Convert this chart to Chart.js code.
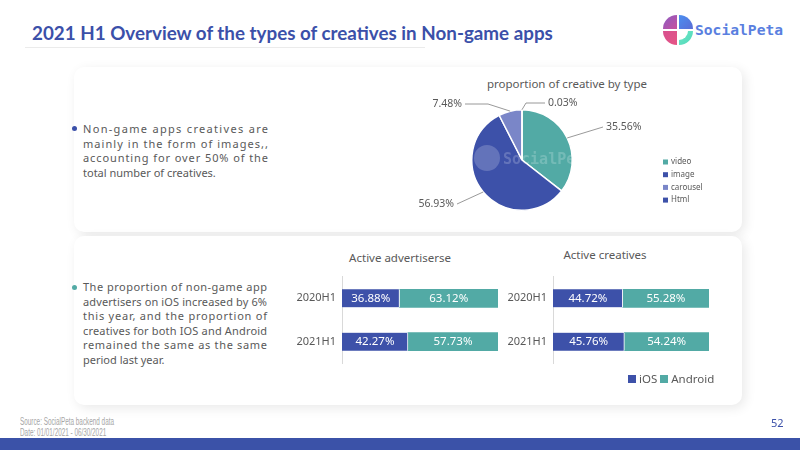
<!DOCTYPE html>
<html><head><meta charset="utf-8">
<script src="https://cdn.jsdelivr.net/npm/chart.js@4.4.0/dist/chart.umd.min.js"></script>
<style>
html,body{margin:0;padding:0;background:#fff;}
body{width:800px;height:450px;position:relative;overflow:hidden;font-family:"Noto Sans",sans-serif;color:#595959;}
.abs{position:absolute;}
#title{left:32px;top:20px;font-family:"Lato","Noto Sans",sans-serif;font-weight:700;font-size:19px;color:#3b50a9;white-space:nowrap;line-height:26px;}
#rule{left:25px;top:47px;width:400px;height:1px;background:#ebebeb;}
.card{background:#fff;border-radius:10px;box-shadow:3px 3px 12px rgba(0,0,0,0.09);}
.txt{font-size:11px;line-height:14.5px;color:#595959;white-space:nowrap;}
.txt div{white-space:nowrap;}
.dot{width:5px;height:5px;border-radius:50%;}
.ctitle{font-size:11.5px;color:#595959;white-space:nowrap;transform:translateX(-50%);}
.foot{left:20px;font-family:"Liberation Sans",sans-serif;font-size:10px;color:#a6a6a6;white-space:nowrap;line-height:11px;transform-origin:0 0;}
#page{left:771px;top:415px;font-size:11px;color:#3b50a9;}
#bar{left:0;top:438px;width:800px;height:12px;background:#3b52a8;}
#logo{left:663px;top:15px;width:30px;height:30px;}
#logo div{position:absolute;width:14px;height:14px;}
#logotext{left:695px;top:17px;font-family:"DejaVu Sans Mono",monospace;font-weight:700;font-size:16px;color:#5a7fe0;white-space:nowrap;line-height:26px;}
#leg{left:628px;top:371px;font-size:11.5px;color:#595959;white-space:nowrap;}
#leg span.sq{display:inline-block;width:8px;height:8px;margin-right:3px;vertical-align:0px;}
.wm{color:rgba(0,0,0,0.025);font-family:"DejaVu Sans Mono",monospace;font-weight:700;font-size:15px;white-space:nowrap;}
</style></head>
<body>
<div id="title" class="abs">2021 H1 Overview of the types of creatives in Non-game apps</div>
<div id="rule" class="abs"></div>
<div id="logo" class="abs">
  <div style="left:0;top:0;border-top-left-radius:14px;background:linear-gradient(135deg,#8a5cc4,#c8509e);"></div>
  <div style="left:16px;top:0;border-top-right-radius:14px;background:linear-gradient(135deg,#4b8ff0,#5a6cd6);"></div>
  <div style="left:0;top:16px;border-bottom-left-radius:14px;background:linear-gradient(135deg,#d8508f,#e65585);"></div>
  <div style="left:16px;top:16px;border-bottom-right-radius:14px;background:linear-gradient(135deg,#6fe9c8,#4fd6b8);"></div>
  <div style="left:16px;top:16px;width:9px;height:9px;border-bottom-right-radius:9px;background:#fff;"></div>
</div>
<div id="logotext" class="abs">SocialPeta</div>

<div class="abs card" style="left:74px;top:67px;width:668px;height:165px;"></div>
<div class="abs card" style="left:74px;top:236px;width:668px;height:169px;"></div>

<div class="abs dot" style="left:72px;top:126px;background:#3b50a9;"></div>
<div class="abs txt" id="b1" style="left:83px;top:122px;">
  <div class="j">Non-game apps creatives are</div>
  <div class="j">mainly in the form of images,,</div>
  <div class="j">accounting for over 50% of the</div>
  <div>total number of creatives.</div>
</div>
<div class="abs dot" style="left:72px;top:285px;background:#52aaa5;"></div>
<div class="abs txt" id="b2" style="left:83px;top:280px;">
  <div class="j">The proportion of non-game app</div>
  <div class="j">advertisers on iOS increased by 6%</div>
  <div class="j">this year, and the proportion of</div>
  <div class="j">creatives for both IOS and Android</div>
  <div class="j">remained the same as the same</div>
  <div>period last year.</div>
</div>

<div class="abs ctitle" style="left:567px;top:76px;">proportion of creative by type</div>
<canvas id="pie" class="abs" width="330" height="154" style="left:410px;top:72px;"></canvas>

<div class="abs ctitle" style="left:400px;top:250px;">Active advertiserse</div>
<div class="abs ctitle" style="left:605px;top:247px;">Active creatives</div>
<div class="abs wm" style="left:372px;top:311px;">&#9679; SocialPeta</div>
<div class="abs wm" style="left:584px;top:312px;">&#9679; SocialPeta</div>
<canvas id="adv" class="abs" width="220" height="112" style="left:290px;top:264px;"></canvas>
<canvas id="cre" class="abs" width="220" height="112" style="left:500px;top:264px;"></canvas>
<div id="leg" class="abs"></div>

<div id="foot1" class="abs foot" style="top:416px;">Source: SocialPeta backend data</div>
<div id="foot2" class="abs foot" style="top:427px;">Date: 01/01/2021 - 06/30/2021</div>
<div id="page" class="abs">52</div>
<div id="bar" class="abs"></div>

<script>
// ---- data ----
const creativeTypes = ['video', 'image', 'carousel', 'Html'];
const creativeShares = [35.56, 56.93, 7.48, 0.03];
const periods = ['2020H1', '2021H1'];
const platforms = ['iOS', 'Android'];
const advertiserIOS = [36.88, 42.27];
const advertiserAndroid = [63.12, 57.73];
const creativeIOS = [44.72, 45.76];
const creativeAndroid = [55.28, 54.24];

// ---- styles ----
const BLUE = '#3d51a9', TEAL = '#52aaa5', LAV = '#7a86c8', GREY = '#595959';
const FONT = '"Noto Sans", sans-serif';

// text fitting helpers
function fitWidth(el, target){
  let fs = parseFloat(getComputedStyle(el).fontSize);
  for(let i=0;i<4;i++){ const w = el.getBoundingClientRect().width; fs = fs*target/w; el.style.fontSize = fs+'px'; }
}
fitWidth(document.getElementById('title'), 521);
fitWidth(document.getElementById('logotext'), 88);
const f1 = document.getElementById('foot1'), f2 = document.getElementById('foot2');
const sx = 94 / f1.getBoundingClientRect().width;
f1.style.transform = f2.style.transform = 'scaleX(' + sx + ')';
function justify(id, target){
  document.querySelectorAll('#'+id+' .j').forEach(d=>{
    d.style.display='inline-block'; d.style.letterSpacing='0px';
    const w = d.getBoundingClientRect().width;
    const n = d.textContent.length;
    d.style.letterSpacing = ((target - w)/(n-1))+'px';
    d.style.display='block';
  });
}
justify('b1', 185); justify('b2', 184);

// legend for bars
const leg = document.getElementById('leg');
[[platforms[0],BLUE],[platforms[1],TEAL]].forEach(([n,c],i)=>{
  const s=document.createElement('span'); s.className='sq'; s.style.background=c; if(i>0) s.style.marginLeft='3px';
  leg.appendChild(s); leg.appendChild(document.createTextNode(n));
});

// ---- pie ----
function p0x(c){ return (c.chartArea.left + c.chartArea.right)/2; }
function p0y(c){ return (c.chartArea.top + c.chartArea.bottom)/2; }
const pieLabels = {
  id:'pieLabels',
  afterDatasetsDraw(chart, args, opts){
    const ctx = chart.ctx, meta = chart.getDatasetMeta(0), ds = chart.data.datasets[0];
    ctx.save();
    ctx.font = '10.5px ' + FONT; ctx.fillStyle = GREY; ctx.strokeStyle = '#7f7f7f'; ctx.lineWidth = 0.8;
    ctx.textBaseline = 'middle';
    meta.data.forEach((arc, i)=>{
      const p = arc.getProps(['x','y','startAngle','endAngle','outerRadius'], true);
      const mid = (p.startAngle + p.endAngle)/2;
      const sx = p.x + Math.cos(mid)*p.outerRadius, sy = p.y + Math.sin(mid)*p.outerRadius;
      const o = opts.items[i];
      const ex = p.x + o.dx, ey = p.y + o.dy;
      const dir = o.align === 'left' ? 1 : -1;
      const kx = ex - dir*o.h;
      ctx.beginPath(); ctx.moveTo(sx, sy); ctx.lineTo(kx, ey); ctx.lineTo(ex, ey); ctx.stroke();
      ctx.textAlign = o.align;
      ctx.fillText(ds.data[i].toFixed(2) + '%', ex + dir*3, ey);
    });
    // legend
    ctx.font = '8px ' + FONT; ctx.textAlign = 'left';
    chart.data.labels.forEach((l, i)=>{
      const y = opts.legendY + i*12.7;
      ctx.fillStyle = ds.backgroundColor[i]; ctx.fillRect(opts.legendX, y-2.5, 5, 5);
      ctx.fillStyle = GREY; ctx.fillText(l, opts.legendX + 8, y);
    });
    // watermark
    ctx.globalAlpha = 0.2; ctx.fillStyle = '#fff';
    ctx.beginPath(); ctx.arc(p0x(chart)-35, p0y(chart)-2, 13, 0, Math.PI*2); ctx.fill();
    ctx.font = 'bold 15px "DejaVu Sans Mono", monospace';
    ctx.fillText('SocialPeta', p0x(chart)-19, p0y(chart));
    ctx.restore();
  }
};

new Chart(document.getElementById('pie'), {
  type: 'pie',
  data: { labels: creativeTypes, datasets: [{ data: creativeShares, backgroundColor: [TEAL, BLUE, LAV, BLUE], borderColor: '#fff', borderWidth: 1.5 }] },
  options: {
    responsive: false, animation: false,
    layout: { padding: { left: 61, right: 167, top: 37, bottom: 15 } },
    plugins: {
      legend: { display: false }, tooltip: { enabled: false },
      pieLabels: {
        legendX: 253, legendY: 90,
        items: [
          { dx: 81, dy: -33, h: 0, align: 'left' },
          { dx: -65, dy: 44, h: 0, align: 'right' },
          { dx: -57, dy: -56, h: 23, align: 'right' },
          { dx: 23, dy: -57, h: 19, align: 'left' }
        ]
      }
    }
  },
  plugins: [pieLabels]
});

// ---- bars ----
const barLabels = {
  id:'barLabels',
  afterDatasetsDraw(chart){
    const ctx = chart.ctx;
    ctx.save(); ctx.font = '11.5px ' + FONT; ctx.fillStyle = '#fff'; ctx.textAlign = 'center'; ctx.textBaseline = 'middle';
    chart.data.datasets.forEach((ds, di)=>{
      chart.getDatasetMeta(di).data.forEach((el, i)=>{
        const p = el.getProps(['x','y','base'], true);
        ctx.fillText(ds.data[i].toFixed(2) + '%', (p.x + p.base)/2, p.y + 0.5);
      });
    });
    ctx.restore();
  }
};
function barChart(id, ios, android, axisW, padR){
  return new Chart(document.getElementById(id), {
    type: 'bar',
    data: { labels: periods, datasets: [
      { label: platforms[0], data: ios, backgroundColor: BLUE, borderColor: '#fff', borderWidth: { right: 1 }, borderSkipped: false, barThickness: 18 },
      { label: platforms[1], data: android, backgroundColor: TEAL, barThickness: 18 }
    ]},
    options: {
      indexAxis: 'y', responsive: false, animation: false,
      layout: { padding: { left: 0, right: padR, top: 12, bottom: 10 } },
      plugins: { legend: { display: false }, tooltip: { enabled: false } },
      scales: {
        x: { stacked: true, min: 0, max: 100, display: false },
        y: { stacked: true, grid: { display: false, drawTicks: false }, border: { color: '#d9d9d9', width: 1 },
             ticks: { color: GREY, font: { size: 11, family: FONT }, padding: 6 },
             afterFit(s){ s.width = axisW; } }
      }
    },
    plugins: [barLabels]
  });
}
barChart('adv', advertiserIOS, advertiserAndroid, 52, 12);
barChart('cre', creativeIOS, creativeAndroid, 53, 11);
</script>
</body></html>
